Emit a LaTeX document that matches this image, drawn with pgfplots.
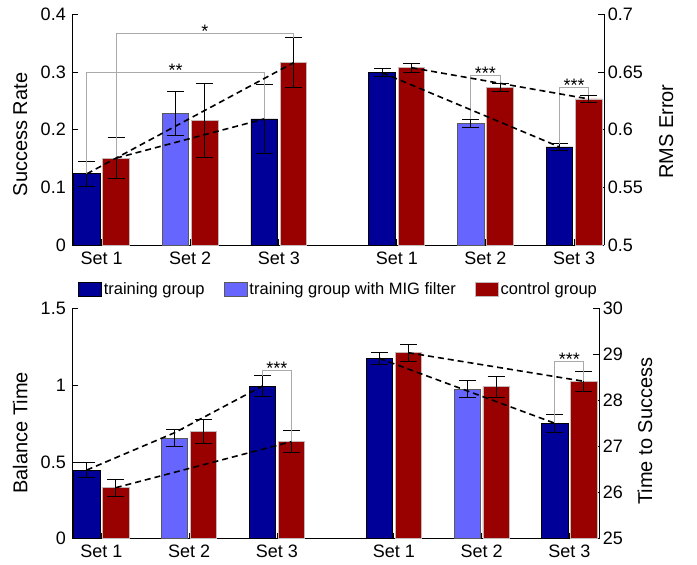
\documentclass[border=0pt]{standalone}
\usepackage{fontspec}
\setmainfont{Liberation Sans}
\usepackage{pgfplots}
\pgfplotsset{compat=1.18}
\definecolor{dblue}{RGB}{0,0,153}
\definecolor{lblue}{RGB}{102,102,255}
\definecolor{dred}{RGB}{153,0,0}
\definecolor{brk}{RGB}{170,170,170}
\definecolor{redge}{RGB}{195,185,185}
\tikzset{stars/.style={font=\fontsize{18}{20}\selectfont, anchor=base, yshift=-4pt}}
\pgfplotsset{
  panel/.style={scale only axis, xmin=0.67, xmax=6.67,
    axis line style={line width=0.8pt, black},
    tick style={line width=0.8pt, black}, major tick length=6pt, tick align=inside,
    ticklabel style={font=\fontsize{18}{20}\selectfont},
    label style={font=\fontsize{20}{22}\selectfont},
    /pgf/number format/assume math mode=true,
    clip=true},
  barbase/.style={ybar, bar width=0.30, bar shift=0pt, line width=0.8pt,
    legend image code/.code={\draw[##1, line width=0.8pt] (0pt,-7pt) rectangle (23pt,7pt);},
    error bars/.cd, y dir=both, y explicit,
    error bar style={black, line width=1pt},
    error mark options={black, rotate=90, mark size=8.5pt, line width=1pt}},
  bbar/.style={fill=dblue, draw=black, barbase},
  mbar/.style={fill=lblue, draw=black!65, barbase},
  rbar/.style={fill=dred, draw=redge, barbase},
  brack/.style={brk, line width=1pt, sharp plot, forget plot},
  trend/.style={black, line width=1.6pt, dash pattern=on 6pt off 4pt, sharp plot, forget plot}
}
\begin{document}
\begin{tikzpicture}
\path[use as bounding box] (0pt,0pt) rectangle (697pt,-565pt);
% ---------------- top left: Success Rate
\begin{axis}[panel, at={(72.3pt,-245pt)}, anchor=south west, width=532pt, height=230.7pt,
  ymin=0, ymax=0.4, ytick={0,0.1,0.2,0.3,0.4},
  axis x line*=bottom, axis y line*=left,
  xtick={1,2,3,4.33,5.33,6.33}, xticklabels={Set 1,Set 2,Set 3,Set 1,Set 2,Set 3},
  xticklabel style={yshift=-3pt}, yticklabel style={xshift=-3pt},
  ylabel={Success Rate},
  ylabel style={at={(axis description cs:-0.098,0.479)}, anchor=center, rotate=0},
  legend columns=3,
  legend style={at={(rel axis cs:0,0)}, anchor=west, xshift=6pt, yshift=-44pt, draw=none, fill=none,
    font=\fontsize{16.5}{18}\selectfont, inner sep=0pt,
    nodes={inner sep=1.5pt},
    /tikz/every even column/.append style={column sep=18pt}},
  legend cell align=left]
\addplot[bbar] coordinates {(0.835,0.1235) +- (0,0.022) (2.835,0.2186) +- (0,0.060)};
\addlegendentry{training group}
\addplot[mbar] coordinates {(1.835,0.2278) +- (0,0.038)};
\addlegendentry{training group with MIG filter}
\addplot[rbar] coordinates {(1.165,0.1507) +- (0,0.036) (2.165,0.2162) +- (0,0.064) (3.165,0.316) +- (0,0.043)};
\addlegendentry{control group}
\addplot[brack] coordinates {(1.165,0.1507) (1.165,0.3664) (3.165,0.3664) (3.165,0.3588)};
\addplot[brack] coordinates {(0.835,0.1235) (0.835,0.2986) (2.835,0.2986) (2.835,0.2186)};
\addplot[trend] coordinates {(0.835,0.1235) (3.165,0.316)};
\addplot[trend] coordinates {(1.165,0.1507) (2.835,0.2186)};
\node[stars] at (axis cs:2.165,0.3664) {*};
\node[stars] at (axis cs:1.835,0.2986) {**};
\end{axis}
% ---------------- top right: RMS Error
\begin{axis}[panel, at={(72.3pt,-245pt)}, anchor=south west, width=532pt, height=230.7pt,
  ymin=0.5, ymax=0.7, ytick={0.5,0.55,0.6,0.65,0.7},
  axis x line=none, axis y line*=right,
  ylabel={RMS Error},
  ylabel style={at={(axis description cs:1.1165,0.491)}, anchor=center, rotate=0}]
\addplot[bbar] coordinates {(4.165,0.6494) +- (0,0.0037) (6.165,0.585) +- (0,0.003)};
\addplot[mbar] coordinates {(5.165,0.6055) +- (0,0.0037)};
\addplot[rbar] coordinates {(4.495,0.6537) +- (0,0.004) (5.495,0.6367) +- (0,0.0036) (6.495,0.6266) +- (0,0.0033)};
\addplot[brack] coordinates {(5.165,0.6092) (5.165,0.6468) (5.495,0.6468) (5.495,0.6407)};
\addplot[brack] coordinates {(6.165,0.5876) (6.165,0.6367) (6.495,0.6367) (6.495,0.630)};
\addplot[trend] coordinates {(4.165,0.6494) (6.165,0.585)};
\addplot[trend] coordinates {(4.495,0.6537) (6.495,0.6266)};
\node[stars] at (axis cs:5.33,0.6468) {***};
\node[stars] at (axis cs:6.33,0.6367) {***};
\end{axis}
% ---------------- bottom left: Balance Time
\begin{axis}[panel, at={(72.3pt,-538.7pt)}, anchor=south west, width=527pt, height=230.4pt,
  ymin=0, ymax=1.5, ytick={0,0.5,1,1.5},
  axis x line*=bottom, axis y line*=left,
  xtick={1,2,3,4.33,5.33,6.33}, xticklabels={Set 1,Set 2,Set 3,Set 1,Set 2,Set 3},
  xticklabel style={yshift=-3pt}, yticklabel style={xshift=-3pt},
  ylabel={Balance Time},
  ylabel style={at={(axis description cs:-0.099,0.46)}, anchor=center, rotate=0}]
\addplot[bbar] coordinates {(0.835,0.447) +- (0,0.048) (2.835,0.994) +- (0,0.067)};
\addplot[mbar] coordinates {(1.835,0.656) +- (0,0.055)};
\addplot[rbar] coordinates {(1.165,0.332) +- (0,0.055) (2.165,0.699) +- (0,0.079) (3.165,0.632) +- (0,0.073)};
\addplot[brack] coordinates {(2.835,1.061) (2.835,1.094) (3.165,1.094) (3.165,0.632)};
\addplot[trend] coordinates {(0.835,0.447) (1.835,0.69) (2.835,0.994)};
\addplot[trend] coordinates {(1.165,0.332) (3.165,0.632)};
\node[stars] at (axis cs:3.0,1.094) {***};
\end{axis}
% ---------------- bottom right: Time to Success
\begin{axis}[panel, at={(72.3pt,-538.7pt)}, anchor=south west, width=527pt, height=230.4pt,
  ymin=25, ymax=30, ytick={25,26,27,28,29,30},
  axis x line=none, axis y line*=right,
  ylabel={Time to Success},
  ylabel style={at={(axis description cs:1.0867,0.467)}, anchor=center, rotate=0}]
\addplot[bbar] coordinates {(4.165,28.915) +- (0,0.135) (6.165,27.504) +- (0,0.2)};
\addplot[mbar] coordinates {(5.165,28.249) +- (0,0.185)};
\addplot[rbar] coordinates {(4.495,29.036) +- (0,0.185) (5.495,28.30) +- (0,0.23) (6.495,28.416) +- (0,0.215)};
\addplot[brack] coordinates {(6.165,27.504) (6.165,28.835) (6.495,28.835) (6.495,28.416)};
\addplot[trend] coordinates {(4.165,28.915) (6.165,27.504)};
\addplot[trend] coordinates {(4.495,29.036) (6.495,28.416)};
\node[stars] at (axis cs:6.33,28.835) {***};
\end{axis}
\end{tikzpicture}
\end{document}
